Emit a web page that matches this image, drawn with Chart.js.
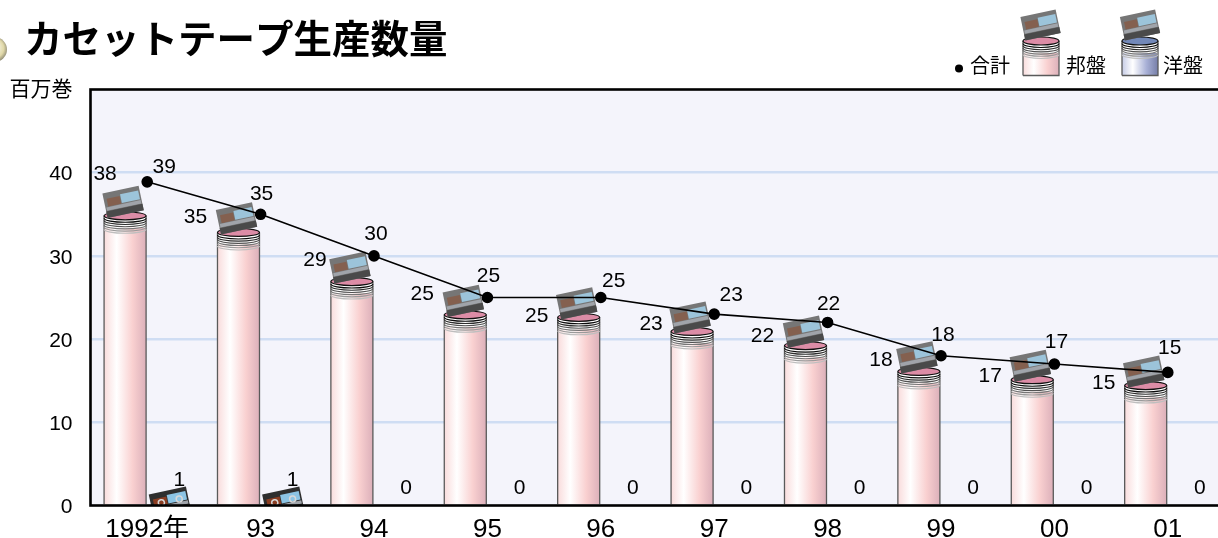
<!DOCTYPE html>
<html lang="ja">
<head>
<meta charset="utf-8">
<title>カセットテープ生産数量</title>
<script src="https://cdn.jsdelivr.net/npm/chart.js@4"></script>
<style>
    html, body { margin: 0; padding: 0; background: #fff; overflow: hidden; }
    canvas { display: block; }
</style>
</head>
<body>
<canvas id="tapeChart" width="1240" height="538"></canvas>
<script>
// Chart data
const categories = ['1992年', '93', '94', '95', '96', '97', '98', '99', '00', '01'];
const domesticTop = [35.3, 33.3, 27.4, 23.4, 23.1, 21.4, 19.7, 16.6, 15.6, 14.9];
const domesticLabels = ['38', '35', '29', '25', '25', '23', '22', '18', '17', '15'];
const overseasValues = [1, 1, 0, 0, 0, 0, 0, 0, 0, 0];
const totalValues = [38.9, 35, 30, 25, 25, 23, 22, 18, 17, 16];
const totalLabels = ['39', '35', '30', '25', '25', '23', '22', '18', '17', '15'];
const yTicks = [0, 10, 20, 30, 40];

// The value labels were placed by hand in the original
const domesticNudgeX = [-20, -43, -37, -43, -42, -41, -43, -38, -42, -42];
const domesticNudgeY = [-39, -13, -19, -18, 1, -5, -7, -9, -1, 0];
const totalNudgeX = [17, 1, 2, 1, 13, 17, 1, 2, 2, 2];
const totalNudgeY = [-16, -22, -23, -23, -18, -20, -20, -22, -23, -26];

const SANS = '"Liberation Sans", "Noto Sans CJK JP", sans-serif';
const PINK = { stops: ['#f9dcdc', '#ffffff', '#f9d0d0', '#dcb0ba'], cap: '#dc8ca6' };
const BLUE = { stops: ['#c6cce6', '#ffffff', '#a8b0d6', '#767ea8'], cap: '#7288b8' };

function drawCassette(ctx, cx, cy, w, h, sharp) {
    ctx.save();
    ctx.translate(cx, cy);
    ctx.rotate(-12 * Math.PI / 180);
    ctx.fillStyle = sharp ? '#2e2e2e' : '#767676';
    ctx.fillRect(-w / 2, -h / 2, w, h);
    // label strip
    ctx.fillStyle = sharp ? '#8a3d22' : '#84604f';
    ctx.fillRect(-w / 2 + 3, -h / 2 + h * 0.24, w * 0.36, h * 0.32);
    ctx.fillStyle = sharp ? '#8cc4e4' : '#9cc4da';
    ctx.fillRect(-w / 2 + 3 + w * 0.38, -h / 2 + h * 0.18, w * 0.5, h * 0.36);
    ctx.fillStyle = '#a0a4aa';
    ctx.fillRect(-w / 2 + 1, -h / 2 + h * 0.58, w - 2, h * 0.14);
    ctx.fillStyle = '#4a4a4a';
    ctx.fillRect(-w / 2, h / 2 - h * 0.26, w, h * 0.26);
    if (sharp) {
        ctx.strokeStyle = '#d8d8d8';
        ctx.lineWidth = 1.5;
        [-0.22, 0.26].forEach(function(k) {
            ctx.beginPath();
            ctx.arc(k * w, -h / 2 + h * 0.45, 3, 0, Math.PI * 2);
            ctx.stroke();
        });
    }
    ctx.restore();
}

// Cylinder: capTop is the upper edge of the lid, base the lower end of the body
function drawTube(ctx, x, capTop, base, width, colors, closed) {
    const left = x - width / 2;
    const ry = 4;
    const capY = capTop + ry;
    const grad = ctx.createLinearGradient(left, 0, left + width, 0);
    grad.addColorStop(0, colors.stops[0]);
    grad.addColorStop(0.3, colors.stops[1]);
    grad.addColorStop(0.68, colors.stops[2]);
    grad.addColorStop(1, colors.stops[3]);
    ctx.fillStyle = grad;
    ctx.fillRect(left, capY, width, base - capY);
    // wound tape rings under the lid
    ctx.fillStyle = '#ffffff';
    ctx.fillRect(left, capY, width, 12);
    ctx.strokeStyle = '#5a5a5a';
    ctx.lineWidth = 1.3;
    ctx.beginPath();
    ctx.moveTo(left, capY);
    ctx.lineTo(left, base);
    ctx.moveTo(left + width, capY);
    ctx.lineTo(left + width, base);
    if (closed) {
        ctx.lineTo(left, base);
    }
    ctx.stroke();
    for (let i = 0; i < 6; i++) {
        const shade = 10 + i * 36;
        ctx.strokeStyle = 'rgb(' + shade + ',' + shade + ',' + shade + ')';
        ctx.lineWidth = 1.1;
        ctx.beginPath();
        ctx.ellipse(x, capY + 2.5 + i * 2.2, width / 2, ry, 0, 0, Math.PI);
        ctx.stroke();
    }
    ctx.fillStyle = colors.cap;
    ctx.strokeStyle = '#111';
    ctx.lineWidth = 1.2;
    ctx.beginPath();
    ctx.ellipse(x, capY, width / 2, ry, 0, 0, Math.PI * 2);
    ctx.fill();
    ctx.stroke();
}

function drawText(ctx, text, x, y, size, align) {
    ctx.font = size + 'px ' + SANS;
    ctx.fillStyle = '#000';
    ctx.textAlign = align || 'center';
    ctx.textBaseline = 'middle';
    ctx.fillText(text, x, y + 1.5);
}

const tapePlugin = {
    id: 'tapePlugin',
    beforeDraw: function(chart) {
        const ctx = chart.ctx;
        const area = chart.chartArea;
        ctx.save();
        ctx.fillStyle = '#f4f4fb';
        ctx.fillRect(area.left, area.top, area.right - area.left, area.bottom - area.top);
        ctx.restore();
    },
    beforeDatasetsDraw: function(chart) {
        const ctx = chart.ctx;
        const area = chart.chartArea;
        ctx.save();
        ctx.beginPath();
        ctx.rect(area.left, area.top, area.right - area.left, area.bottom - area.top);
        ctx.clip();
        chart.getDatasetMeta(0).data.forEach(function(bar) {
            drawTube(ctx, bar.x, bar.y, bar.base, bar.width, PINK, false);
            drawCassette(ctx, bar.x - 2, bar.y - 10, 37, 25, false);
        });
        chart.getDatasetMeta(1).data.forEach(function(bar, i) {
            if (overseasValues[i] > 0) {
                drawCassette(ctx, bar.x + 0.5, bar.y + 5, 38, 24, true);
            }
        });
        ctx.restore();
    },
    afterDatasetsDraw: function(chart) {
        const ctx = chart.ctx;
        ctx.save();
        chart.getDatasetMeta(0).data.forEach(function(bar, i) {
            drawText(ctx, domesticLabels[i], bar.x + domesticNudgeX[i], bar.y + domesticNudgeY[i], 21);
        });
        chart.getDatasetMeta(1).data.forEach(function(bar, i) {
            drawText(ctx, String(overseasValues[i]), bar.x + 10, bar.y - 18.5, 21);
        });
        chart.getDatasetMeta(2).data.forEach(function(pt, i) {
            drawText(ctx, totalLabels[i], pt.x + totalNudgeX[i], pt.y + totalNudgeY[i], 21);
        });
        ctx.restore();
    },
    afterDraw: function(chart) {
        const ctx = chart.ctx;
        const area = chart.chartArea;
        ctx.save();
        // plot frame
        ctx.strokeStyle = '#000';
        ctx.lineWidth = 2.6;
        ctx.strokeRect(area.left, area.top, area.right - area.left, area.bottom - area.top);

        // title with the ball bullet cut off by the page edge
        const ball = ctx.createRadialGradient(-8, 46, 2, -5, 49, 13);
        ball.addColorStop(0, '#ffffff');
        ball.addColorStop(0.7, '#e0d8a8');
        ball.addColorStop(1, '#8a8672');
        ctx.fillStyle = ball;
        ctx.beginPath();
        ctx.arc(-5.5, 49.5, 12.5, 0, Math.PI * 2);
        ctx.fill();
        ctx.font = 'bold 38.5px "Noto Sans CJK JP", sans-serif';
        ctx.fillStyle = '#000';
        ctx.textAlign = 'left';
        ctx.textBaseline = 'middle';
        ctx.fillText('カセットテープ生産数量', 24, 38);

        drawText(ctx, '百万巻', 9.5, 89, 21, 'left');

        // legend
        ctx.fillStyle = '#000';
        ctx.beginPath();
        ctx.arc(959, 68.5, 4, 0, Math.PI * 2);
        ctx.fill();
        drawText(ctx, '合計', 970, 66, 20, 'left');
        drawTube(ctx, 1041, 37, 75.5, 36, PINK, true);
        drawCassette(ctx, 1040.5, 25, 36, 24, false);
        drawText(ctx, '邦盤', 1066, 66, 20, 'left');
        drawTube(ctx, 1140, 37, 75.5, 36, BLUE, true);
        drawCassette(ctx, 1140, 25, 36, 24, false);
        drawText(ctx, '洋盤', 1163, 66, 20, 'left');
        ctx.restore();
    }
};

new Chart(document.getElementById('tapeChart').getContext('2d'), {
    type: 'bar',
    data: {
        labels: categories,
        datasets: [
            {
                label: '邦盤',
                data: domesticTop,
                backgroundColor: 'transparent',
                categoryPercentage: 0.78,
                barPercentage: 0.95
            },
            {
                label: '洋盤',
                data: overseasValues,
                backgroundColor: 'transparent',
                categoryPercentage: 0.78,
                barPercentage: 0.95
            },
            {
                type: 'line',
                label: '合計',
                data: totalValues,
                borderColor: '#000',
                borderWidth: 1.6,
                backgroundColor: '#000',
                pointBackgroundColor: '#000',
                pointBorderColor: '#000',
                pointRadius: 5,
                tension: 0
            }
        ]
    },
    options: {
        responsive: false,
        animation: false,
        layout: {
            padding: { top: 89.5, right: 15.5, bottom: 0, left: 0 }
        },
        plugins: {
            legend: { display: false },
            title: { display: false },
            tooltip: { enabled: false }
        },
        scales: {
            x: {
                grid: { display: false },
                border: { display: false },
                ticks: {
                    color: '#000',
                    font: { family: SANS, size: 26 },
                    padding: 1,
                    maxRotation: 0,
                    autoSkip: false
                },
                afterFit: function(scale) {
                    scale.height = 32.5;
                }
            },
            y: {
                min: 0,
                max: 50,
                grid: {
                    drawTicks: false,
                    lineWidth: 2.6,
                    color: function(context) {
                        return yTicks.includes(context.tick.value) && context.tick.value > 0 ? '#cfddf3' : 'transparent';
                    }
                },
                border: { display: false },
                ticks: {
                    color: '#000',
                    stepSize: 10,
                    padding: 18,
                    labelOffset: 2,
                    font: { family: SANS, size: 21 },
                    callback: function(value) {
                        return yTicks.includes(value) ? value : '';
                    }
                },
                afterFit: function(scale) {
                    scale.width = 90.5;
                }
            }
        }
    },
    plugins: [tapePlugin]
});
</script>
</body>
</html>
